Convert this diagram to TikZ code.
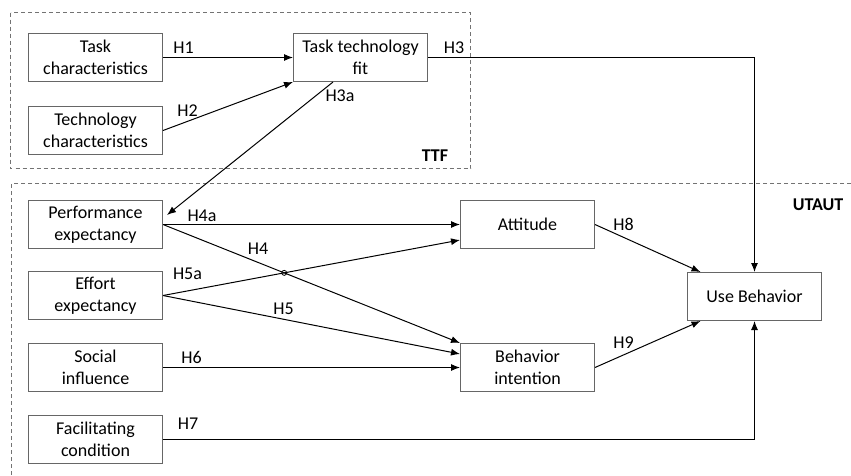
\documentclass[tikz,border=0pt]{standalone}
\usepackage{fontspec}
\setmainfont{Carlito}
\usetikzlibrary{arrows.meta,calc,intersections}
\begin{document}
\begin{tikzpicture}[x=1pt,y=-1pt,
  font=\fontsize{18}{22}\selectfont,
  box/.style={draw=black!60,line width=1pt,minimum width=134,minimum height=48,
    inner sep=0pt,align=center,fill=white},
  link/.style={draw=black,line width=1pt,-{Latex[length=9pt,width=7pt]}},
  group/.style={draw=black!55,line width=0.9pt,dash pattern=on 4pt off 3pt},
  hyp/.style={inner sep=0pt},
  tag/.style={inner sep=0pt,font=\fontsize{18}{22}\selectfont\bfseries}]
\useasboundingbox (0,0) rectangle (851,475);

% model groups
\draw[group] (10.5,12.5) rectangle (470.5,168.5);
\draw[group] (851,183.5) -- (11.5,183.5) -- (11.5,475);
\node[tag] (ttflbl) at (435,156) {TTF};
\node[tag] (utautlbl) at (818,204.5) {UTAUT};

% constructs
\node[box] (tc)  at (95.5,57.5)   {Task\\characteristics};
\node[box] (tec) at (95.5,130.5)  {Technology\\characteristics};
\node[box] (ttf) at (360.5,57.5)  {Task technology\\fit};
\node[box] (pe)  at (95.5,224.5)  {Performance\\expectancy};
\node[box] (ee)  at (95.5,295.5)  {Effort\\expectancy};
\node[box] (si)  at (95.5,367.5)  {Social\\influence};
\node[box] (fc)  at (95.5,439.5)  {Facilitating\\condition};
\node[box] (att) at (527.5,224.5) {Attitude};
\node[box] (bi)  at (527.5,367.5) {Behavior\\intention};
\node[box] (ub)  at (754.5,296.5) {Use Behavior};

% hypotheses
\draw[link] (tc.east) -- (ttf.west);
\draw[link] (tec.east) -- (ttf.south west);
\draw[link] (ttf.east) -| (ub.north);
\draw[link] ($(ttf.south west)+(40,0)$) -- ($(pe.east)+(4,-9.5)$);
\draw[link] (pe.east) -- (att.west);
\draw[link,name path=hfour] (pe.east) -- (bi.north west);
\draw[link,name path=hfivea] (ee.east) -- ($(att.west)+(0,15.5)$);
\draw[link] (ee.east) -- ($(bi.west)+(0,-13.5)$);
\draw[link] (si.east) -- (bi.west);
\draw[link] (fc.east) -| (ub.south);
\draw[link] (att.east) -- ($(ub.north west)+(13.5,0)$);
\draw[link] (bi.east) -- ($(ub.south west)+(13.5,0)$);
\path[name intersections={of=hfour and hfivea,by=cross}];
\draw[line width=0.8pt] (cross) circle (2.5);

% hypothesis labels
\node[hyp] (h1)  at (183.5,47.5) {H1};
\node[hyp] (h2)  at (187.5,111) {H2};
\node[hyp] (h3)  at (454,47.5) {H3};
\node[hyp] (h3a) at (340,96) {H3a};
\node[hyp] (h4a) at (202,216) {H4a};
\node[hyp] (h4)  at (258,248.5) {H4};
\node[hyp] (h5a) at (187.5,274) {H5a};
\node[hyp] (h5)  at (283.5,308.5) {H5};
\node[hyp] (h6)  at (191.5,357) {H6};
\node[hyp] (h7)  at (188,423.5) {H7};
\node[hyp] (h8)  at (623.5,224.5) {H8};
\node[hyp] (h9)  at (623.5,342.5) {H9};
\end{tikzpicture}
\end{document}
